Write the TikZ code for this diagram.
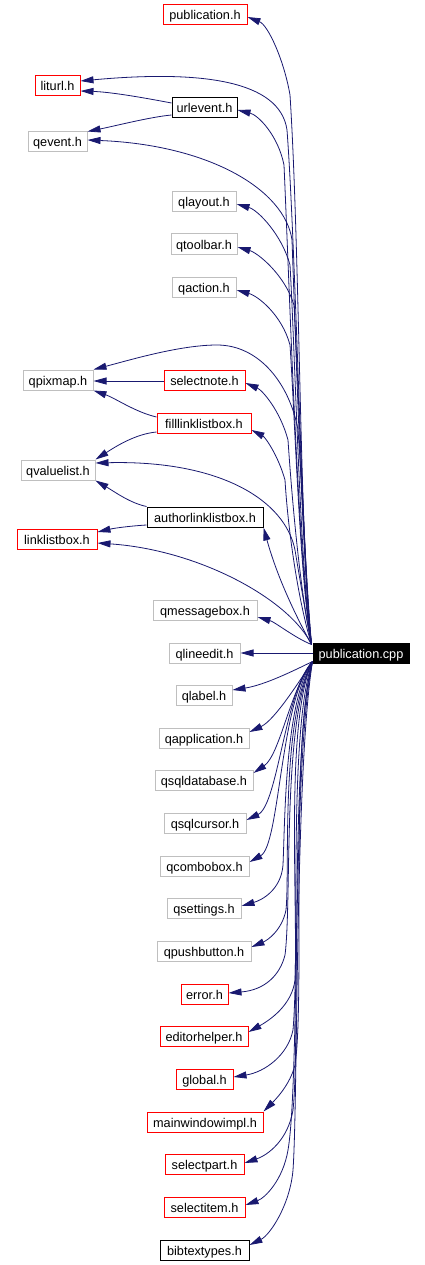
\documentclass[tikz,border=0pt]{standalone}
\usepackage{fontspec}
\setmainfont{Liberation Sans}
\usetikzlibrary{arrows.meta}
\definecolor{edgec}{HTML}{191970}
\definecolor{grayb}{HTML}{BFBFBF}
\definecolor{redb}{HTML}{FF0000}
\begin{document}
\begin{tikzpicture}[x=1pt,y=-1pt,
  box/.style={draw, line width=1pt, minimum height=20pt, inner sep=0pt, text height=11.5pt, text depth=1.5pt, font=\fontsize{12.7}{14}\selectfont, fill=white},
  rbox/.style={box, draw=redb},
  gbox/.style={box, draw=grayb},
  kbox/.style={box, draw=black},
  cbox/.style={box, draw=black, fill=black, text=white},
  e/.style={draw=edgec, line width=0.8pt, -{Triangle[length=13pt,width=7pt]}}]
\useasboundingbox[fill=white] (0,0) rectangle (425,1265);
% nodes
\node[rbox, minimum width=84pt] (pubh) at (205,15) {publication.h};
\node[rbox, minimum width=45pt] (liturl) at (57.5,86) {liturl.h};
\node[kbox, minimum width=65pt] (urlevent) at (204.5,108) {urlevent.h};
\node[gbox, minimum width=59pt] (qevent) at (57.5,142) {qevent.h};
\node[gbox, minimum width=64pt] (qlayout) at (204,202) {qlayout.h};
\node[gbox, minimum width=66pt] (qtoolbar) at (204,244) {qtoolbar.h};
\node[gbox, minimum width=64pt] (qaction) at (204,287) {qaction.h};
\node[gbox, minimum width=70pt] (qpixmap) at (58,380) {qpixmap.h};
\node[rbox, minimum width=81pt] (selectnote) at (204.5,380) {selectnote.h};
\node[rbox, minimum width=94pt] (filllb) at (204,423) {filllinklistbox.h};
\node[gbox, minimum width=74pt] (qvaluelist) at (58,470) {qvaluelist.h};
\node[kbox, minimum width=116pt] (author) at (205,517) {authorlinklistbox.h};
\node[rbox, minimum width=80pt] (linklist) at (57,539.5) {linklistbox.h};
\node[gbox, minimum width=104pt] (qmsg) at (205,610.5) {qmessagebox.h};
\node[cbox, minimum width=96pt] (cpp) at (361,653) {publication.cpp};
\node[gbox, minimum width=71pt] (qlineedit) at (204.5,653) {qlineedit.h};
\node[gbox, minimum width=56pt] (qlabel) at (204,695) {qlabel.h};
\node[gbox, minimum width=90pt] (qapp) at (204,738) {qapplication.h};
\node[gbox, minimum width=98pt] (qsqldb) at (204,780) {qsqldatabase.h};
\node[gbox, minimum width=82pt] (qsqlcursor) at (205,823) {qsqlcursor.h};
\node[gbox, minimum width=89pt] (qcombo) at (204.5,866) {qcombobox.h};
\node[gbox, minimum width=74pt] (qsettings) at (204,908) {qsettings.h};
\node[gbox, minimum width=94pt] (qpush) at (204,951) {qpushbutton.h};
\node[rbox, minimum width=47pt] (errorh) at (204.5,994) {error.h};
\node[rbox, minimum width=88pt] (editor) at (204,1036) {editorhelper.h};
\node[rbox, minimum width=57pt] (globalh) at (204.5,1079) {global.h};
\node[rbox, minimum width=116pt] (mainwin) at (205,1122) {mainwindowimpl.h};
\node[rbox, minimum width=79pt] (selectpart) at (204.5,1164) {selectpart.h};
\node[rbox, minimum width=81pt] (selectitem) at (204.5,1207) {selectitem.h};
\node[kbox, minimum width=89pt] (bibtex) at (204.5,1250) {bibtextypes.h};
% upper edges from publication.cpp
\draw[e] ([shift={(-1,2)}]cpp.north west) .. controls (300,560) and (300,250) .. (290,95) .. controls (284,60) and (268,25) .. ([shift={(0,2)}]pubh.east);
\draw[e] ([shift={(-1,2)}]cpp.north west) .. controls (302,560) and (296,250) .. (287,130) .. controls (280,80) and (200,70) .. ([shift={(0,-5)}]liturl.east);
\draw[e] ([shift={(-1,2)}]cpp.north west) .. controls (298,560) and (290,300) .. (284,165) .. controls (278,135) and (258,115) .. ([shift={(0,2)}]urlevent.east);
\draw[e] ([shift={(-1,2)}]cpp.north west) .. controls (303,570) and (297,380) .. (292,240) .. controls (285,190) and (210,145) .. ([shift={(0,-2)}]qevent.east);
\draw[e] ([shift={(-1,2)}]cpp.north west) .. controls (300,570) and (295,350) .. (290,265) .. controls (282,235) and (258,210) .. ([shift={(0,2)}]qlayout.east);
\draw[e] ([shift={(-1,2)}]cpp.north west) .. controls (304,575) and (299,390) .. (294,305) .. controls (285,275) and (258,253) .. ([shift={(0,3)}]qtoolbar.east);
\draw[e] ([shift={(-1,2)}]cpp.north west) .. controls (300,580) and (295,420) .. (290,345) .. controls (282,315) and (258,296) .. ([shift={(0,3)}]qaction.east);
\draw[e] ([shift={(-1,2)}]cpp.north west) .. controls (306,580) and (303,500) .. (298,430) .. controls (290,385) and (260,345) .. (217,345) .. controls (180,345) and (130,360) .. (qpixmap.north east);
\draw[e] ([shift={(-1,2)}]cpp.north west) .. controls (300,590) and (292,500) .. (288,440) .. controls (280,410) and (262,390) .. ([shift={(0,3)}]selectnote.east);
\draw[e] ([shift={(-1,2)}]cpp.north west) .. controls (298,600) and (288,530) .. (285,480) .. controls (278,455) and (265,437) .. ([shift={(0,7)}]filllb.east);
\draw[e] ([shift={(-1,2)}]cpp.north west) .. controls (305,610) and (300,580) .. (295,550) .. controls (285,500) and (220,460) .. ([shift={(0,-7)}]qvaluelist.east);
\draw[e] ([shift={(-1,2)}]cpp.north west) .. controls (298,620) and (278,580) .. (author.south east);
\draw[e] ([shift={(-1,2)}]cpp.north west) .. controls (290,600) and (200,550) .. ([shift={(0,3.5)}]linklist.east);
\draw[e] ([shift={(-1,2)}]cpp.north west) .. controls (295,638) and (275,622) .. ([shift={(0,6.5)}]qmsg.east);
\draw[e] (cpp.west) -- (qlineedit.east);
% lower edges from publication.cpp
\draw[e] ([shift={(0,-2)}]cpp.south west) .. controls (295,670) and (265,685) .. ([shift={(0,-5)}]qlabel.east);
\draw[e] ([shift={(0,-2)}]cpp.south west) .. controls (300,680) and (275,720) .. ([shift={(0,-6)}]qapp.east);
\draw[e] ([shift={(0,-2)}]cpp.south west) .. controls (290,690) and (280,755) .. ([shift={(0,-7)}]qsqldb.east);
\draw[e] ([shift={(0,-2)}]cpp.south west) .. controls (285,690) and (278,805) .. ([shift={(0,-3)}]qsqlcursor.east);
\draw[e] ([shift={(0,-2)}]cpp.south west) .. controls (280,700) and (280,845) .. ([shift={(0,-4)}]qcombo.east);
\draw[e] ([shift={(0,-2)}]cpp.south west) .. controls (285,700) and (285,820) .. (283,865) .. controls (281,890) and (262,900) .. ([shift={(0,-2)}]qsettings.east);
\draw[e] ([shift={(0,-2)}]cpp.south west) .. controls (280,720) and (290,870) .. (286,910) .. controls (282,930) and (268,940) .. ([shift={(0,-4)}]qpush.east);
\draw[e] ([shift={(0,-2)}]cpp.south west) .. controls (282,720) and (292,900) .. (285,955) .. controls (280,975) and (265,990) .. ([shift={(0,-1)}]errorh.east);
\draw[e] ([shift={(0,-2)}]cpp.south west) .. controls (285,720) and (298,900) .. (295,980) .. controls (292,1005) and (270,1020) .. ([shift={(0,-4)}]editor.east);
\draw[e] ([shift={(0,-2)}]cpp.south west) .. controls (288,730) and (300,950) .. (293,1030) .. controls (288,1055) and (265,1072) .. ([shift={(0,-2)}]globalh.east);
\draw[e] ([shift={(0,-2)}]cpp.south west) .. controls (290,740) and (305,1000) .. (295,1065) .. controls (290,1085) and (275,1100) .. (mainwin.north east);
\draw[e] ([shift={(0,-2)}]cpp.south west) .. controls (290,750) and (300,1050) .. (293,1110) .. controls (288,1140) and (268,1155) .. ([shift={(0,-1)}]selectpart.east);
\draw[e] ([shift={(0,-2)}]cpp.south west) .. controls (292,760) and (300,1080) .. (288,1150) .. controls (283,1180) and (265,1198) .. ([shift={(0,-2)}]selectitem.east);
\draw[e] ([shift={(0,-2)}]cpp.south west) .. controls (295,770) and (298,1100) .. (293,1170) .. controls (290,1205) and (270,1235) .. ([shift={(0,-5)}]bibtex.east);
% side edges
\draw[e] ([shift={(0,-5)}]urlevent.west) .. controls (140,97) and (110,92) .. ([shift={(0,5)}]liturl.east);
\draw[e] ([shift={(0,7)}]urlevent.west) .. controls (150,117) and (115,126) .. (qevent.north east);
\draw[e] ([shift={(0,1)}]selectnote.west) -- ([shift={(0,1)}]qpixmap.east);
\draw[e] ([shift={(0,-6)}]filllb.west) .. controls (135,412) and (115,398) .. (qpixmap.south east);
\draw[e] ([shift={(0,9)}]filllb.west) .. controls (135,434) and (115,447) .. (qvaluelist.north east);
\draw[e] (author.north west) .. controls (130,503) and (115,492) .. (qvaluelist.south east);
\draw[e] ([shift={(0,8)}]author.west) .. controls (130,526) and (115,528) .. ([shift={(0,-7.5)}]linklist.east);
\end{tikzpicture}
\end{document}
